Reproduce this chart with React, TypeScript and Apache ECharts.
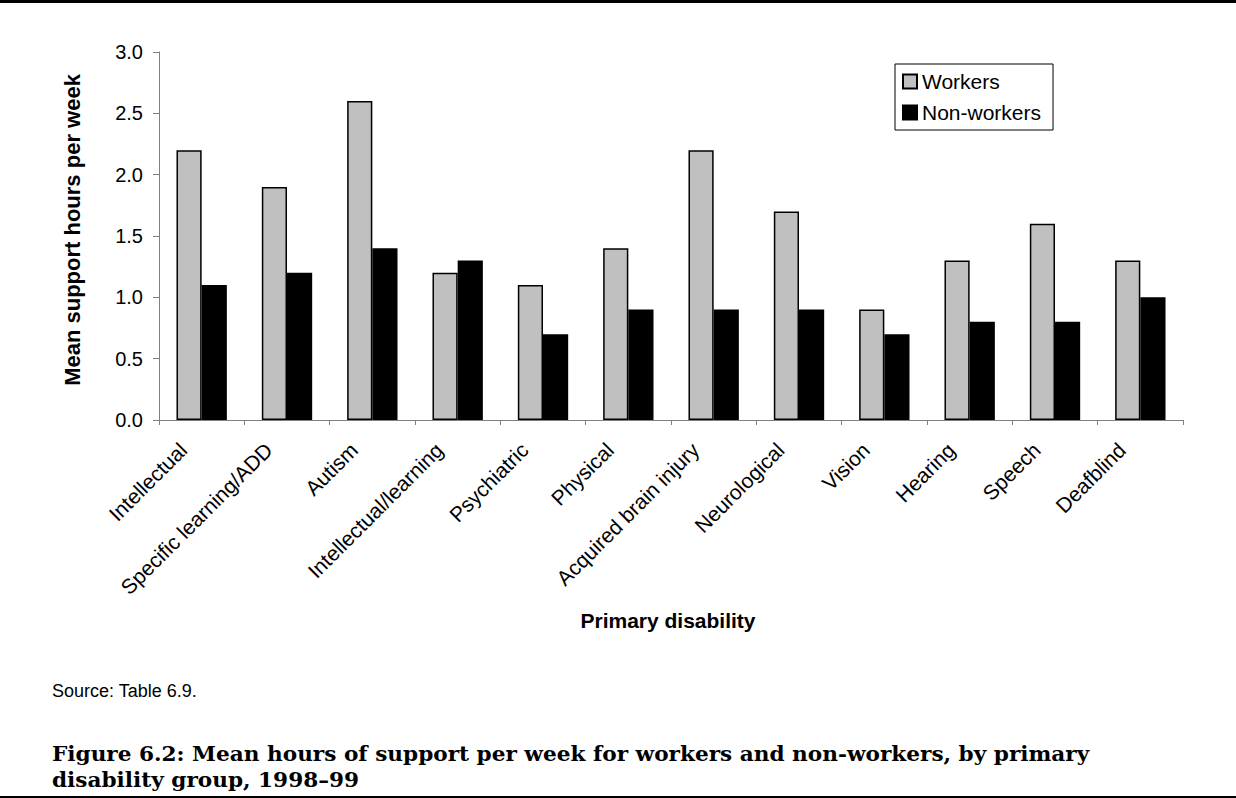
import React, { useEffect, useRef } from "react";
import * as echarts from "echarts";

const categories = [
  "Intellectual",
  "Specific learning/ADD",
  "Autism",
  "Intellectual/learning",
  "Psychiatric",
  "Physical",
  "Acquired brain injury",
  "Neurological",
  "Vision",
  "Hearing",
  "Speech",
  "Deafblind",
];
const workers = [2.2, 1.9, 2.6, 1.2, 1.1, 1.4, 2.2, 1.7, 0.9, 1.3, 1.6, 1.3];
const nonWorkers = [1.1, 1.2, 1.4, 1.3, 0.7, 0.9, 0.9, 0.9, 0.7, 0.8, 0.8, 1.0];
const yTicks = { min: 0, max: 3, interval: 0.5 };

const SANS = "'Liberation Sans', Arial, sans-serif";
const SERIF = "'DejaVu Serif', serif";

export default function App() {
  const ref = useRef<HTMLDivElement>(null);

  useEffect(() => {
    document.body.style.margin = "0";
    const chart = echarts.init(ref.current!, null, { renderer: "svg" });
    chart.setOption({
      animation: false,
      backgroundColor: "#ffffff",
      grid: { left: 159, right: 53, top: 52, bottom: 378, containLabel: false },
      legend: {
        left: 895,
        top: 64,
        orient: "vertical",
        icon: "rect",
        itemWidth: 14,
        itemHeight: 14,
        itemGap: 10,
        padding: [7, 12, 7, 7],
        borderColor: "#000",
        borderWidth: 1,
        backgroundColor: "#fff",
        textStyle: { fontFamily: SANS, fontSize: 21, color: "#000", lineHeight: 21 },
        data: ["Workers", "Non-workers"],
      },
      xAxis: {
        type: "category",
        data: categories,
        axisLine: { lineStyle: { color: "#808080", width: 1 } },
        axisTick: { show: true, length: 5, lineStyle: { color: "#808080" } },
        axisLabel: {
          rotate: 45,
          interval: 0,
          margin: 8,
          padding: [0, 26, 0, 0],
          fontFamily: SANS,
          fontSize: 21,
          color: "#000",
        },
      },
      yAxis: {
        type: "value",
        min: yTicks.min,
        max: yTicks.max,
        interval: yTicks.interval,
        splitLine: { show: false },
        axisLine: { show: true, lineStyle: { color: "#808080", width: 1 } },
        axisTick: { show: true, length: 6, lineStyle: { color: "#808080" } },
        axisLabel: {
          margin: 16,
          fontFamily: SANS,
          fontSize: 20,
          color: "#000",
          formatter: (v: number) => v.toFixed(1),
        },
      },
      series: [
        {
          name: "Workers",
          type: "bar",
          data: workers,
          barGap: "0%",
          barCategoryGap: "41%",
          itemStyle: { color: "#c0c0c0", borderColor: "#000", borderWidth: 1.5 },
        },
        {
          name: "Non-workers",
          type: "bar",
          data: nonWorkers,
          itemStyle: { color: "#000", borderColor: "#000", borderWidth: 1.5 },
        },
      ],
      graphic: [
        { type: "rect", shape: { x: 0, y: 0, width: 1236, height: 3 }, style: { fill: "#000" } },
        { type: "rect", shape: { x: 0, y: 796, width: 1236, height: 2 }, style: { fill: "#000" } },
        {
          type: "text",
          x: 72,
          y: 230,
          rotation: Math.PI / 2,
          style: {
            text: "Mean support hours per week",
            fontFamily: SANS,
            fontWeight: "bold",
            fontSize: 22,
            fill: "#000",
            align: "center",
            verticalAlign: "middle",
          },
        },
        {
          type: "text",
          x: 668,
          y: 620,
          style: {
            text: "Primary disability",
            fontFamily: SANS,
            fontWeight: "bold",
            fontSize: 21,
            fill: "#000",
            align: "center",
            verticalAlign: "middle",
          },
        },
        {
          type: "text",
          x: 52,
          y: 691,
          style: {
            text: "Source: Table 6.9.",
            fontFamily: SANS,
            fontSize: 18,
            fill: "#000",
            align: "left",
            verticalAlign: "middle",
          },
        },
        {
          type: "text",
          x: 52,
          y: 754,
          scaleX: 1.03,
          style: {
            text: "Figure 6.2: Mean hours of support per week for workers and non-workers, by primary",
            fontFamily: SERIF,
            fontWeight: "bold",
            fontSize: 21,
            fill: "#000",
            align: "left",
            verticalAlign: "middle",
          },
        },
        {
          type: "text",
          x: 52,
          y: 780,
          scaleX: 1.03,
          style: {
            text: "disability group, 1998\u201399",
            fontFamily: SERIF,
            fontWeight: "bold",
            fontSize: 21,
            fill: "#000",
            align: "left",
            verticalAlign: "middle",
          },
        },
      ],
    });
    return () => chart.dispose();
  }, []);

  return <div ref={ref} style={{ width: 1236, height: 798 }} />;
}
